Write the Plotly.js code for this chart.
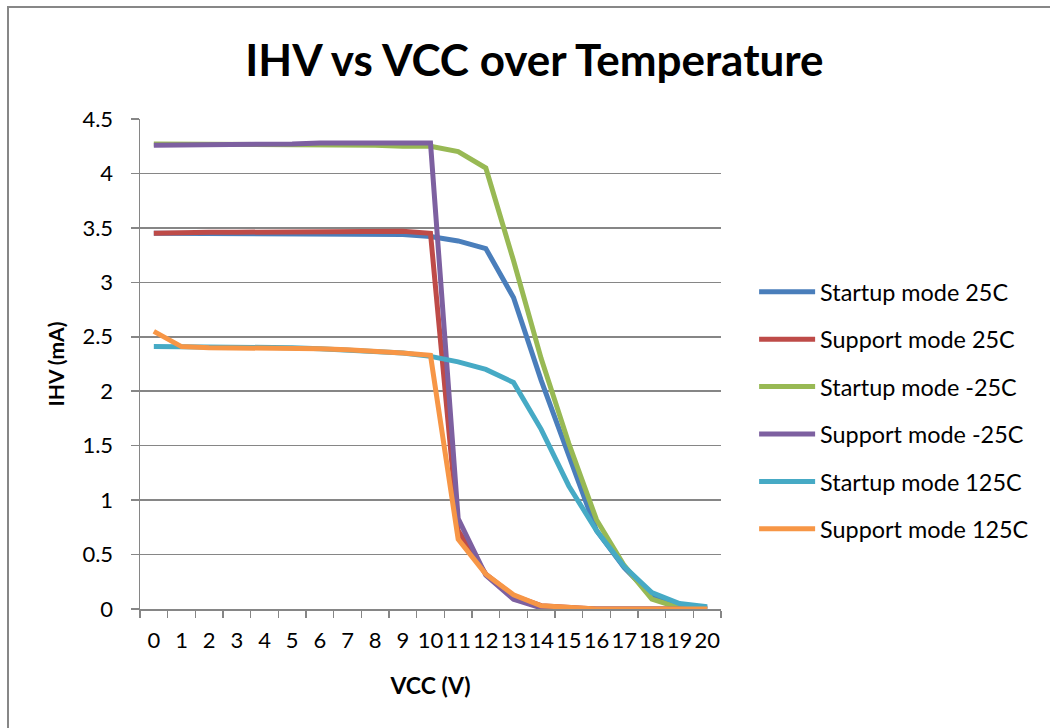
<!DOCTYPE html>
<html>
<head>
<meta charset="utf-8">
<script src="https://cdn.plot.ly/plotly-3.0.1.min.js"></script>
<style>
  html, body { margin: 0; padding: 0; background: #fff; }
  #frame { position: absolute; left: 7px; top: 6px; width: 1043px; height: 722px;
           border-left: 2px solid #878787; border-top: 2px solid #878787; box-sizing: border-box; }
  #chart { position: absolute; left: 0; top: 0; width: 1050px; height: 728px; }
</style>
</head>
<body>
<div id="frame"></div>
<div id="chart"></div>
<script>
const vcc = ['0','1','2','3','4','5','6','7','8','9','10','11','12','13','14','15','16','17','18','19','20'];

const startup25   = [3.45,3.45,3.45,3.45,3.45,3.45,3.45,3.45,3.45,3.44,3.42,3.38,3.31,2.86,2.10,1.40,0.72,0.38,0.12,0.03,0.01];
const support25   = [3.45,3.46,3.46,3.46,3.46,3.47,3.47,3.47,3.47,3.47,3.45,0.72,0.32,0.12,0.03,0.01,0,0,0,0,0];
const startupM25  = [4.27,4.27,4.27,4.27,4.27,4.27,4.27,4.27,4.26,4.25,4.25,4.20,4.05,3.20,2.30,1.52,0.82,0.40,0.09,0.01,0];
const supportM25  = [4.26,4.26,4.27,4.27,4.27,4.27,4.28,4.28,4.28,4.28,4.28,0.83,0.31,0.09,0.01,0,0,0,0,0,0];
const startup125  = [2.41,2.41,2.41,2.40,2.40,2.40,2.39,2.38,2.37,2.35,2.32,2.27,2.20,2.08,1.65,1.13,0.72,0.39,0.15,0.05,0.02];
const support125  = [2.55,2.41,2.40,2.40,2.40,2.39,2.39,2.38,2.37,2.35,2.33,0.64,0.32,0.13,0.03,0.01,0,0,0,0,0];

const seriesNames = ['Startup mode 25C','Support mode 25C','Startup mode -25C','Support mode -25C','Startup mode 125C','Support mode 125C'];
const seriesData  = [startup25, support25, startupM25, supportM25, startup125, support125];
const seriesColors = ['#4A7EBB','#BE4B48','#98B954','#7D60A0','#46AAC5','#F79646'];

const FONT = 'Lato, "Open Sans", sans-serif';

const traces = seriesData.map((ys, i) => ({
  type: 'scatter',
  mode: 'lines',
  x: vcc,
  y: ys,
  name: seriesNames[i],
  legendgroup: 'g' + i,
  line: { color: seriesColors[i], width: 5, shape: 'linear' },
  hoverinfo: 'x+y+name'
}));

const layout = {
  width: 1050,
  height: 728,
  paper_bgcolor: 'rgba(0,0,0,0)',
  plot_bgcolor: '#ffffff',
  margin: { l: 140, r: 329, t: 119, b: 119 },
  font: { family: FONT, color: '#000000', size: 22 },
  title: {
    text: '<b>IHV vs VCC over Temperature</b>',
    font: { family: FONT, size: 44, color: '#000000' },
    xref: 'container', x: 0.509, xanchor: 'center',
    yref: 'container', y: 0.917, yanchor: 'middle'
  },
  xaxis: {
    type: 'category',
    range: [-0.5, 20.5],
    tickson: 'boundaries',
    ticks: 'outside',
    ticklen: 7,
    tickwidth: 1.5,
    tickcolor: '#868686',
    showline: true,
    linecolor: '#868686',
    linewidth: 1.5,
    showgrid: false,
    zeroline: false,
    tickangle: 0,
    tickfont: { family: FONT, size: 22, color: '#000' },
    ticklabelstandoff: 11,
    title: { text: '<b>VCC (V)</b>', font: { family: FONT, size: 23, color: '#000' }, standoff: 26 }
  },
  yaxis: {
    range: [0, 4.5],
    dtick: 0.5,
    tick0: 0,
    ticks: 'outside',
    ticklen: 8,
    tickwidth: 1.5,
    tickcolor: '#868686',
    showline: true,
    linecolor: '#868686',
    linewidth: 1.5,
    showgrid: true,
    gridcolor: '#868686',
    gridwidth: 1.5,
    zeroline: false,
    tickfont: { family: FONT, size: 22, color: '#000' },
    ticklabelstandoff: 13,
    title: { text: '<b>IHV (mA)</b>', font: { family: FONT, size: 21, color: '#000' }, standoff: 12 }
  },
  showlegend: true,
  legend: {
    x: 1.057, xanchor: 'left',
    y: 0.405, yanchor: 'middle',
    font: { family: FONT, size: 23.4, color: '#000' },
    tracegroupgap: 14,
    itemwidth: 56,
    bgcolor: 'rgba(0,0,0,0)'
  }
};

Plotly.newPlot('chart', traces, layout, { displayModeBar: false, staticPlot: true });
</script>
</body>
</html>
